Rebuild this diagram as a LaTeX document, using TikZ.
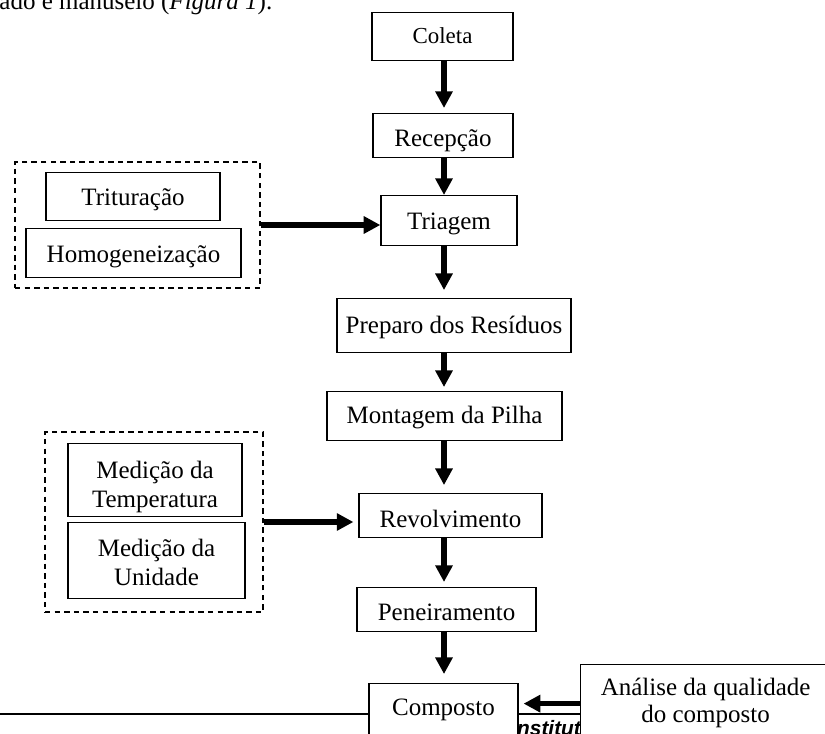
\documentclass[tikz,border=0pt]{standalone}
\usepackage{fontspec}
\setmainfont{Liberation Serif}
\newfontfamily\rodape{Liberation Sans}
\usetikzlibrary{arrows.meta,calc}
\definecolor{Papel}{HTML}{FFFFFF}
\definecolor{Tinta}{HTML}{000000}
\tikzset{etapa/.style={rectangle,draw=Tinta,line width=0.6pt,fill=Papel,inner sep=0pt,anchor=north,align=center,text=Tinta,font=\fontsize{12}{14}\selectfont},grupo/.style={rectangle,draw=Tinta,line width=0.9pt,dash pattern=on 2.6pt off 2pt,inner sep=0pt},seta/.style={draw=Tinta,line width=2.6pt,-{Triangle[length=8pt,width=8pt]}}}

\begin{document}
\begin{tikzpicture}[x=0.48pt,y=-0.48pt]
\useasboundingbox (0,0) rectangle (825,734);
\clip (0,0) rectangle (825,734);
\fill[Papel] (0,0) rectangle (825,734);
\node[anchor=base west,inner sep=0pt,font=\fontsize{12}{14}\selectfont] (texto) at (-1,10) {ado e manuseio (\textit{Figura 1}).};
\draw[line width=0.5pt] (0,714) -- (600,714);
\node[anchor=base west,inner sep=0pt,font=\rodape\bfseries\itshape\fontsize{10}{12}\selectfont] (instituto) at (511,735) {Institut};
\node[etapa,minimum width=67.7pt,text height=14.9pt,text depth=8.2pt,font=\fontsize{11}{13}\selectfont] (coleta) at (442.5,12) {Coleta};
\node[etapa,minimum width=67.2pt,text height=15.8pt,text depth=5.3pt] (recepcao) at (443,113) {Recepção};
\node[etapa,minimum width=65.3pt,text height=16.3pt,text depth=7.7pt] (triagem) at (449,195) {Triagem};
\node[etapa,minimum width=112.3pt,text height=16.8pt,text depth=9.1pt] (preparo) at (454,298) {Preparo dos Resíduos};
\node[etapa,minimum width=112.8pt,text height=15.4pt,text depth=8.2pt] (montagem) at (444.5,391) {Montagem da Pilha};
\node[etapa,minimum width=87.8pt,text height=16.3pt,text depth=4.8pt] (revolvimento) at (450.5,493) {Revolvimento};
\node[etapa,minimum width=85.9pt,text height=15.8pt,text depth=5.3pt] (peneiramento) at (446.5,587) {Peneiramento};
\node[etapa,minimum width=71.5pt,text height=15.4pt,text depth=14.4pt] (composto) at (443.5,683) {Composto};
\node[etapa,anchor=north west,minimum width=120pt,text height=27.8pt,text depth=18.2pt,font=\fontsize{12}{13}\selectfont] (analise) at (580,664) {Análise da qualidade\\do composto};
\node[grupo,minimum width=117.6pt,minimum height=60.5pt] (grupoA) at (137.5,225) {};
\node[etapa,minimum width=83.5pt,text height=15.8pt,text depth=7.2pt] (trituracao) at (133,172) {Trituração};
\node[etapa,minimum width=103.2pt,text height=16.3pt,text depth=7.2pt] (homogeneizacao) at (133.5,228) {Homogeneização};
\node[grupo,minimum width=104.6pt,minimum height=86.4pt] (grupoB) at (154,522) {};
\node[etapa,minimum width=83.5pt,text height=30.7pt,text depth=4.3pt] (temperatura) at (155,443) {Medição da\\Temperatura};
\node[etapa,minimum width=85pt,text height=30.2pt,text depth=6.2pt] (unidade) at (156.5,522) {Medição da\\Unidade};
\coordinate (eixo) at (444,0);
\draw[seta,shorten >=2.4pt] (coleta.south -| eixo) -- (recepcao.north -| eixo);
\draw[seta] (recepcao.south -| eixo) -- (triagem.north -| eixo);
\draw[seta,shorten >=3.8pt] (triagem.south -| eixo) -- (preparo.north -| eixo);
\draw[seta,shorten >=1.9pt] (preparo.south -| eixo) -- (montagem.north -| eixo);
\draw[seta,shorten >=3.8pt] (montagem.south -| eixo) -- (revolvimento.north -| eixo);
\draw[seta,shorten >=2.4pt] (revolvimento.south -| eixo) -- (peneiramento.north -| eixo);
\draw[seta,shorten >=4.3pt] (peneiramento.south -| eixo) -- (composto.north -| eixo);
\draw[seta] (grupoA.east) -- (triagem.west |- grupoA.east);
\draw[seta,shorten >=2.4pt] (grupoB.east) -- (revolvimento.west |- grupoB.east);
\coordinate (pontaC) at ([yshift=5.8pt]composto.base east);
\draw[seta,shorten >=2.4pt] (analise.west |- pontaC) -- (pontaC);
\end{tikzpicture}
\end{document}
